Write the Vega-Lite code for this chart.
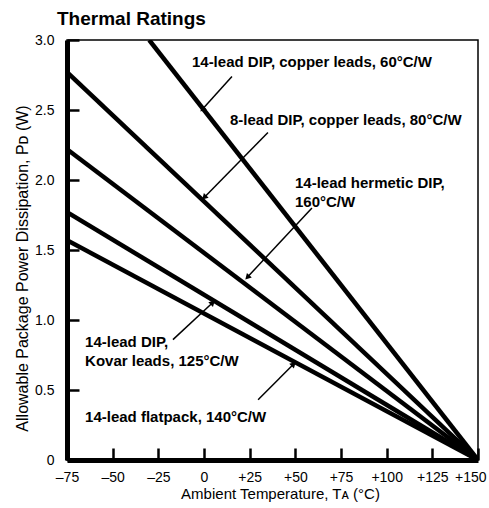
{
  "$schema": "https://vega.github.io/schema/vega-lite/v6.json",
  "autosize": {"type": "none"},
  "width": 411,
  "height": 420,
  "padding": {"left": 67, "top": 40, "right": 11, "bottom": 48},
  "background": "white",
  "title": {
    "text": "Thermal Ratings",
    "anchor": "start",
    "frame": "group",
    "dx": -10,
    "offset": 4,
    "font": "Liberation Sans",
    "fontSize": 19,
    "fontWeight": "bold",
    "color": "black"
  },
  "config": {
    "view": {"stroke": "black", "strokeWidth": 1.5},
    "axis": {
      "labelFont": "Liberation Sans",
      "titleFont": "Liberation Sans",
      "labelColor": "black",
      "titleColor": "black",
      "domainColor": "black",
      "tickColor": "black",
      "grid": false,
      "zindex": 1
    }
  },
  "datasets": {
    "lines": [
      {"rating": "60", "T": -30, "P": 3.0},
      {"rating": "60", "T": 150, "P": 0},
      {"rating": "80", "T": -75, "P": 2.77},
      {"rating": "80", "T": 150, "P": 0},
      {"rating": "100", "T": -75, "P": 2.22},
      {"rating": "100", "T": 150, "P": 0},
      {"rating": "125", "T": -75, "P": 1.77},
      {"rating": "125", "T": 150, "P": 0},
      {"rating": "140", "T": -75, "P": 1.57},
      {"rating": "140", "T": 150, "P": 0}
    ],
    "labels": [
      {"label": "14-lead DIP, copper leads, 60°C/W", "T": -6.6, "P": 2.84},
      {"label": "8-lead DIP, copper leads, 80°C/W", "T": 14.2, "P": 2.43},
      {"label": "14-lead hermetic DIP,", "T": 49.8, "P": 1.98},
      {"label": "160°C/W", "T": 49.8, "P": 1.84},
      {"label": "14-lead DIP,", "T": -65.1, "P": 0.84},
      {"label": "Kovar leads, 125°C/W", "T": -65.1, "P": 0.71},
      {"label": "14-lead flatpack, 140°C/W", "T": -65.1, "P": 0.31}
    ],
    "arrows": [
      {"tailT": 15.3, "tailP": 2.74, "tipT": -0.5, "tipP": 2.51},
      {"tailT": 35.0, "tailP": 2.34, "tipT": 0.5, "tipP": 1.88},
      {"tailT": 59.1, "tailP": 1.80, "tipT": 24.1, "tipP": 1.31},
      {"tailT": -17.0, "tailP": 0.86, "tipT": 4.4, "tipP": 1.12},
      {"tailT": 29.6, "tailP": 0.43, "tipT": 48.7, "tipP": 0.68}
    ]
  },
  "layer": [
    {
      "data": {"name": "lines"},
      "mark": {"type": "line", "color": "black", "strokeWidth": 4.5, "strokeCap": "butt", "clip": true},
      "encoding": {
        "x": {
          "field": "T", "type": "quantitative",
          "scale": {"domain": [-75, 150], "nice": false, "zero": false},
          "axis": {
            "values": [-75, -50, -25, 0, 25, 50, 75, 100, 125, 150],
            "labelExpr": "datum.value > 0 ? '+' + datum.value : (datum.value < 0 ? '–' + abs(datum.value) : '0')",
            "labelFontSize": 14,
            "labelPadding": 22,
            "labelFlush": false,
            "labelAlign": {"condition": {"test": "datum.value == 150", "value": "right"}, "value": "center"},
            "labelOffset": {"condition": {"test": "datum.value == 150", "value": 8}, "value": 0},
            "domainWidth": 5,
            "ticks": true,
            "tickSize": -12,
            "tickWidth": 2.5,
            "tickOpacity": 1,
            "title": "Ambient Temperature, Tᴀ (°C)",
            "titleFontSize": 15,
            "titleFontWeight": "normal",
            "titleX": 213,
            "titleY": 38,
            "titleBaseline": "alphabetic"
          }
        },
        "y": {
          "field": "P", "type": "quantitative",
          "scale": {"domain": [0, 3], "nice": false},
          "axis": {
            "values": [0, 0.5, 1, 1.5, 2, 2.5, 3],
            "labelExpr": "datum.value == 0 ? '0' : format(datum.value, '.1f')",
            "labelFontSize": 14,
            "labelPadding": 25,
            "labelFlush": false,
            "domainWidth": 5,
            "ticks": true,
            "tickSize": -12,
            "tickWidth": 2.5,
            "tickOpacity": 1,
            "title": "Allowable Package Power Dissipation, Pᴅ (W)",
            "titleFontSize": 16,
            "titleFontWeight": "normal",
            "titleX": -40,
            "titleY": 228,
            "titleBaseline": "alphabetic"
          }
        },
        "detail": {"field": "rating", "type": "nominal"}
      }
    },
    {
      "data": {"name": "arrows"},
      "mark": {"type": "rule", "color": "black", "strokeWidth": 1.5},
      "encoding": {
        "x": {"field": "tailT", "type": "quantitative"},
        "y": {"field": "tailP", "type": "quantitative"},
        "x2": {"field": "tipT"},
        "y2": {"field": "tipP"}
      }
    },
    {
      "data": {"name": "arrows"},
      "mark": {"type": "point", "shape": "triangle", "filled": true, "color": "black", "size": 45, "opacity": 1},
      "encoding": {
        "x": {"field": "tipT", "type": "quantitative"},
        "y": {"field": "tipP", "type": "quantitative"},
        "angle": {"condition": {"test": "datum.tipT < datum.tailT", "value": 224}, "value": 46}
      }
    },
    {
      "data": {"name": "labels"},
      "mark": {"type": "text", "align": "left", "baseline": "middle", "font": "Liberation Sans", "fontSize": 15, "fontWeight": "bold", "color": "black"},
      "encoding": {
        "x": {"field": "T", "type": "quantitative"},
        "y": {"field": "P", "type": "quantitative"},
        "text": {"field": "label"}
      }
    }
  ]
}
